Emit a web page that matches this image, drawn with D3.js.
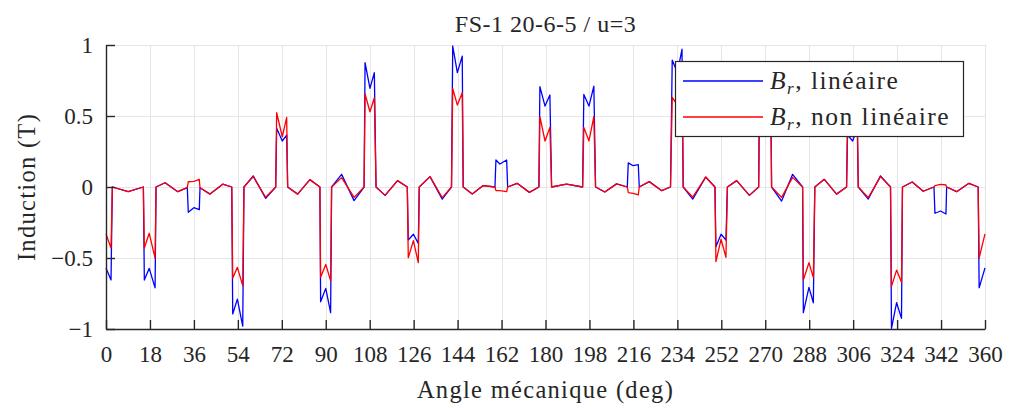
<!DOCTYPE html>
<html>
<head>
<meta charset="utf-8">
<script src="https://cdn.jsdelivr.net/npm/d3@7"></script>
<style>
  body { margin: 0; background: #fff; }
  svg text { font-family: 'Liberation Serif', 'DejaVu Serif', serif; fill: #262626; }
</style>
</head>
<body>
<script>
// mechanical angle (deg) and radial induction (T)
var angle = [
  0.0, 2.05, 2.6, 9.1, 15.3,
  15.7, 17.7, 20.1, 20.5, 24.2, 29.4, 33.3,
  33.7, 36.0, 38.2, 38.5, 42.6, 47.8, 51.5,
  51.9, 53.8, 56.0, 56.5, 60.3, 65.4, 69.5,
  69.9, 72.2, 74.0, 74.4, 78.5, 83.5, 87.6,
  87.9, 90.0, 92.0, 92.4, 96.5, 101.6, 105.7,
  106.1, 108.1, 109.9, 110.6, 114.3, 119.4, 123.4,
  123.8, 125.9, 127.9, 128.3, 132.7, 137.7, 141.5,
  142.0, 143.9, 145.9, 146.3, 150.0, 154.5, 159.3,
  159.7, 161.3, 164.1, 164.5, 168.4, 173.4, 177.3,
  177.7, 179.8, 181.8, 182.5, 188.6, 195.2,
  195.7, 197.8, 199.8, 200.5, 204.3, 209.1, 213.5,
  213.9, 215.9, 218.0, 218.4, 222.5, 227.6, 231.2,
  231.9, 234.0, 235.9, 236.4, 240.3, 245.6, 249.4,
  249.8, 251.9, 253.9, 254.5, 258.3, 263.5, 267.3,
  267.7, 269.9, 272.2, 272.6, 276.7, 281.2, 285.3,
  285.6, 287.9, 289.7, 290.3, 294.2, 299.2, 303.3,
  303.7, 305.8, 307.7, 308.1, 312.2, 317.2, 321.3,
  321.7, 323.8, 325.8, 326.2, 330.2, 334.7, 339.1,
  339.5, 341.8, 344.0, 344.3, 348.4, 353.4, 357.2,
  357.6, 360.0
];
var brLin = [
  -0.57, -0.655, 0, -0.033, 0,
  -0.655, -0.573, -0.71, 0, 0.03, -0.033, -0.005,
  -0.178, -0.146, -0.16, -0.005, -0.05, 0.02, 0,
  -0.894, -0.79, -0.98, 0, 0.078, -0.08, 0,
  0.413, 0.324, 0.366, 0, -0.05, 0.052, 0,
  -0.808, -0.714, -0.885, 0, 0.089, -0.096, 0,
  0.876, 0.695, 0.805, 0, -0.059, 0.045, 0,
  -0.373, -0.333, -0.397, 0, 0.073, -0.085, 0,
  0.993, 0.805, 0.922, 0, -0.05, 0.01, 0,
  0.19, 0.162, 0.19, 0, 0.026, -0.038, 0,
  0.707, 0.57, 0.648, 0, 0.02, 0,
  0.652, 0.57, 0.71, 0, -0.035, 0.022, 0,
  0.17, 0.15, 0.157, 0, 0.038, -0.026, 0,
  0.894, 0.805, 0.97, 0, -0.085, 0.07, 0,
  -0.42, -0.333, -0.373, 0, 0.045, -0.059, 0,
  0.805, 0.695, 0.876, 0, -0.099, 0.089, 0,
  -0.885, -0.707, -0.815, 0, 0.054, -0.05, 0,
  0.366, 0.324, 0.413, 0, -0.085, 0.078, 0,
  -0.995, -0.815, -0.925, 0, 0.035, -0.03, 0,
  -0.185, -0.169, -0.19, 0, -0.033, 0.026, 0,
  -0.71, -0.57
];
var brNonLin = [
  -0.33, -0.43, 0, -0.033, 0,
  -0.43, -0.326, -0.50, 0, 0.03, -0.033, -0.005,
  0.037, 0.04, 0.054, -0.005, -0.05, 0.02, 0,
  -0.643, -0.566, -0.695, 0, 0.073, -0.072, 0,
  0.523, 0.354, 0.49, 0, -0.05, 0.052, 0,
  -0.636, -0.545, -0.66, 0, 0.066, -0.073, 0,
  0.655, 0.53, 0.629, 0, -0.059, 0.045, 0,
  -0.498, -0.378, -0.533, 0, 0.073, -0.075, 0,
  0.695, 0.577, 0.664, 0, -0.05, 0.01, 0,
  -0.026, -0.026, -0.033, 0, 0.026, -0.038, 0,
  0.495, 0.324, 0.42, 0, 0.02, 0,
  0.42, 0.324, 0.495, 0, -0.035, 0.022, 0,
  -0.04, -0.045, -0.056, 0, 0.038, -0.026, 0,
  0.631, 0.577, 0.695, 0, -0.072, 0.07, 0,
  -0.526, -0.368, -0.495, 0, 0.045, -0.059, 0,
  0.629, 0.53, 0.655, 0, -0.073, 0.068, 0,
  -0.655, -0.533, -0.638, 0, 0.054, -0.05, 0,
  0.49, 0.354, 0.523, 0, -0.075, 0.073, 0,
  -0.70, -0.585, -0.67, 0, 0.035, -0.03, 0,
  0.01, 0.019, 0.014, 0, -0.033, 0.026, 0,
  -0.5, -0.33
];
var xTicks = d3.range(0, 361, 18);
var yTicks = [-1, -0.5, 0, 0.5, 1];
var yTickLabels = ['-1', '-0.5', '0', '0.5', '1'];

var width = 1009,
  height = 408,
  plotLeft = 106,
  plotRight = 985,
  plotTop = 45,
  plotBottom = 329;

var svg = d3.select('body').append('svg')
  .attr('width', width)
  .attr('height', height);

var x = d3.scaleLinear().domain([0, 360]).range([plotLeft, plotRight]);
var y = d3.scaleLinear().domain([-1, 1]).range([plotBottom, plotTop]);

// grid
var grid = svg.append('g').attr('stroke', '#e6e6e6').attr('stroke-width', 1);
xTicks.forEach(function(t) {
  grid.append('line')
    .attr('x1', Math.round(x(t)) + 0.5).attr('x2', Math.round(x(t)) + 0.5)
    .attr('y1', plotTop).attr('y2', plotBottom);
});
yTicks.forEach(function(t) {
  grid.append('line')
    .attr('x1', plotLeft).attr('x2', plotRight)
    .attr('y1', Math.round(y(t)) + 0.5).attr('y2', Math.round(y(t)) + 0.5);
});

// series
var line = d3.line()
  .x(function(d) { return x(d[0]); })
  .y(function(d) { return y(d[1]); });

var lin = angle.map(function(a, i) { return [a, brLin[i]]; });
var nonLin = angle.map(function(a, i) { return [a, brNonLin[i]]; });

svg.append('path')
  .attr('d', line(lin))
  .attr('fill', 'none')
  .attr('stroke', '#0000ff')
  .attr('stroke-width', 1.3)
  .attr('stroke-linejoin', 'round');

svg.append('path')
  .attr('d', line(nonLin))
  .attr('fill', 'none')
  .attr('stroke', '#ff0000')
  .attr('stroke-width', 1.3)
  .attr('stroke-linejoin', 'round');

// axes (ticks inside, like matlab)
var xAxis = d3.axisBottom(x).tickValues(xTicks).tickSizeInner(-9).tickSizeOuter(0);
var gx = svg.append('g').attr('transform', 'translate(0,' + plotBottom + ')').call(xAxis);

var yAxis = d3.axisLeft(y).tickValues(yTicks).tickSizeInner(-9).tickSizeOuter(0).tickPadding(13)
  .tickFormat(function(d, i) { return yTickLabels[i].replace('-', '\u2212'); });
var gy = svg.append('g').attr('transform', 'translate(' + plotLeft + ',0)').call(yAxis);

[gx, gy].forEach(function(g) {
  g.attr('font-family', null).attr('font-size', null);
  g.selectAll('text').style('font-size', '23px').attr('fill', '#262626');
  g.select('.domain').attr('stroke', '#262626').attr('stroke-width', 1.4);
  g.selectAll('.tick line').attr('stroke', '#262626').attr('stroke-width', 1.4);
});
gx.selectAll('text').attr('y', 33).attr('dy', 0);
gy.selectAll('text').attr('x', -13).attr('dy', '0.34em');

// title and labels
svg.append('text')
  .attr('x', (plotLeft + plotRight) / 2)
  .attr('y', 32)
  .attr('text-anchor', 'middle')
  .style('font-size', '24px')
  .style('letter-spacing', '0.5px')
  .text('FS-1 20-6-5 / u=3');

svg.append('text')
  .attr('x', (plotLeft + plotRight) / 2)
  .attr('y', 398)
  .attr('text-anchor', 'middle')
  .style('font-size', '24.5px')
  .style('letter-spacing', '1.3px')
  .text('Angle mécanique (deg)');

svg.append('text')
  .attr('transform', 'translate(35,' + ((plotTop + plotBottom) / 2) + ') rotate(-90)')
  .attr('text-anchor', 'middle')
  .style('font-size', '24.5px')
  .style('letter-spacing', '1.3px')
  .text('Induction (T)');

// legend
var legend = svg.append('g').attr('class', 'legend');
legend.append('rect')
  .attr('x', 675.5).attr('y', 61.5)
  .attr('width', 288).attr('height', 75)
  .attr('fill', '#fff')
  .attr('stroke', '#262626')
  .attr('stroke-width', 1.2);

var entries = [
  { color: '#0000ff', label: ', linéaire', y: 81 },
  { color: '#ff0000', label: ', non linéaire', y: 117 }
];
entries.forEach(function(e) {
  legend.append('line')
    .attr('x1', 683).attr('x2', 763)
    .attr('y1', e.y).attr('y2', e.y)
    .attr('stroke', e.color)
    .attr('stroke-width', 1.3);
  var t = legend.append('text')
    .attr('x', 770).attr('y', e.y + 8)
    .style('font-size', '25.5px')
    .style('letter-spacing', '1.5px');
  t.append('tspan').style('font-style', 'italic').text('B');
  t.append('tspan').style('font-style', 'italic').style('font-size', '17px').attr('dy', 5).text('r');
  t.append('tspan').attr('dy', -5).text(e.label);
});
</script>
</body>
</html>
